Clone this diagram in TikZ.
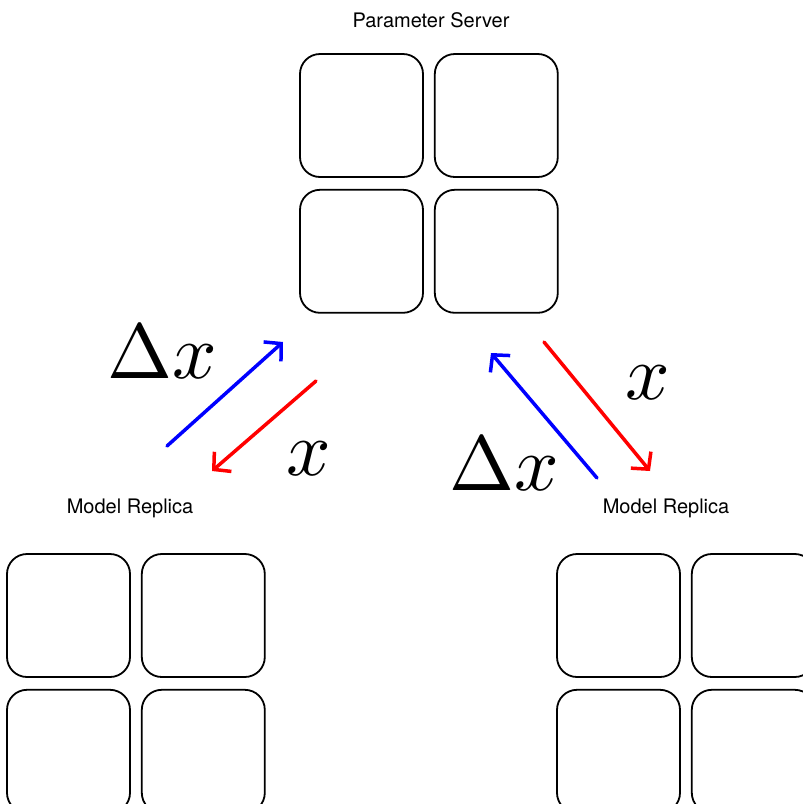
\documentclass[tikz,border=0pt]{standalone}
\usepackage{fontspec}
\usepackage{graphicx}
\setsansfont{TeX Gyre Heros}
\usetikzlibrary{arrows.meta,positioning}
\tikzset{
  cell/.style={draw, line width=1.8pt, rounded corners=20pt, minimum size=123pt, inner sep=0pt},
  flowarrow/.style={-{Straight Barb[length=12pt,width=26pt]}, line width=3.5pt, line cap=round},
  caption/.style={font=\sffamily\fontsize{20}{24}\selectfont, inner sep=0pt, anchor=base},
  sym/.style={inner sep=0pt, anchor=base}
}
\newcommand{\bigsym}[1]{\scalebox{7.8}{$#1$}}

\begin{document}
\begin{tikzpicture}[x=1pt,y=-1pt,node distance=11pt and 10pt]
  \useasboundingbox (0,0) rectangle (803,804);
  \clip (0,0) rectangle (803,804);
  % Parameter server
  \node[caption] (pstitle) at (431,27) {Parameter Server};
  \node[cell] (ps1) at (361.5,115.5) {};
  \node[cell, right=of ps1] (ps2) {};
  \node[cell, below=of ps1] (ps3) {};
  \node[cell, right=of ps3] (ps4) {};
  % Left model replica
  \node[caption] (lrtitle) at (130,513) {Model Replica};
  \node[cell] (lr1) at (68.5,615.5) {};
  \node[cell, right=of lr1] (lr2) {};
  \node[cell, below=of lr1] (lr3) {};
  \node[cell, right=of lr3] (lr4) {};
  % Right model replica
  \node[caption] (rrtitle) at (666,513) {Model Replica};
  \node[cell] (rr1) at (618.5,615.5) {};
  \node[cell, right=of rr1] (rr2) {};
  \node[cell, below=of rr1] (rr3) {};
  \node[cell, right=of rr3] (rr4) {};
  % Arrow ends
  \coordinate (lup0) at (167,446);
  \coordinate (lup1) at (283,342);
  \coordinate (ldn0) at (316,381);
  \coordinate (ldn1) at (212,471);
  \coordinate (rup0) at (597,478);
  \coordinate (rup1) at (491,353);
  \coordinate (rdn0) at (544,342);
  \coordinate (rdn1) at (650,471);
  % Updates and parameters
  \draw[flowarrow, blue] (lup0) -- (lup1);
  \draw[flowarrow, red] (ldn0) -- (ldn1);
  \draw[flowarrow, blue] (rup0) -- (rup1);
  \draw[flowarrow, red] (rdn0) -- (rdn1);
  \node[sym] (ldelta) at (162,378) {\bigsym{\Delta x}};
  \node[sym] (lparam) at (309,475) {\bigsym{x}};
  \node[sym] (rparam) at (648,399) {\bigsym{x}};
  \node[sym] (rdelta) at (504,490) {\bigsym{\Delta x}};
\end{tikzpicture}
\end{document}
